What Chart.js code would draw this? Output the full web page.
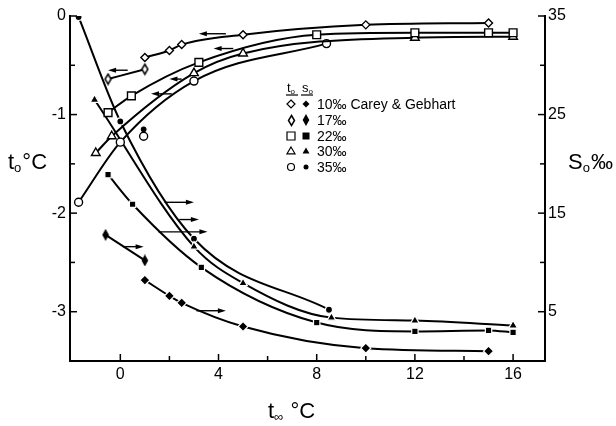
<!DOCTYPE html>
<html>
<head>
<meta charset="utf-8">
<script src="https://cdn.jsdelivr.net/npm/chart.js@4"></script>
<style>
  html, body { margin: 0; padding: 0; background: #fff; }
</style>
</head>
<body>
<canvas id="chart" width="616" height="426"></canvas>
<script>
// axis ticks
const xTicks = [0, 4, 8, 12, 16];
const xMinor = [2, 6, 10, 14];
const leftTicks = [0, -1, -2, -3];
const leftMinor = [-0.5, -1.5, -2.5];
const rightTicks = [5, 15, 25, 35];
const rightMinor = [10, 20, 30];

const legendLabels = ['10‰ Carey & Gebhart', '17‰', '22‰', '30‰', '35‰'];

// open marks = t0 (left axis), closed marks = S0 (right axis)
const tInf10 = [1, 2, 2.5, 5, 10, 15];
const t0_10 = [-0.42, -0.35, -0.29, -0.19, -0.09, -0.07];
const s0_10 = [8.2, 6.6, 5.9, 3.5, 1.3, 1.0];

const tInf17 = [-0.5, 1];
const t0_17 = [-0.64, -0.54];
const tInf17s = [-0.6, 1];
const s0_17 = [12.8, 10.2];

const tInf22 = [-0.5, 0.45, 3.2, 8, 12, 15, 16];
const t0_22 = [-0.98, -0.81, -0.47, -0.19, -0.17, -0.17, -0.17];
const tInf22s = [-0.5, 0.5, 3.3, 8, 12, 15, 16];
const s0_22 = [18.9, 15.9, 9.5, 3.9, 3.0, 3.1, 2.9];

const tInf30 = [-1, -0.35, 3, 5, 12, 16];
const t0_30 = [-1.39, -1.22, -0.58, -0.38, -0.22, -0.21];
const tInf30s = [-1.05, 3, 5, 8.6, 12, 16];
const s0_30 = [26.5, 11.6, 7.9, 4.4, 4.1, 3.6];

const tInf35 = [-1.7, 0, 3, 8.4];
const t0_35 = [-1.89, -1.28, -0.66, -0.28];
const tInf35s = [-1.7, 0, 3, 8.5];
const s0_35 = [34.9, 24.3, 12.4, 5.2];

// lone 35 point at t∞ = 1
const tInfLone = [0.95];
const t0Lone = [-1.22];
const s0Lone = [23.5];

// arrows: head on the left (t0 curves), head on the right (S0 curves)
const arrowsLeft = [
    { from: 0.3, to: -0.5, y: -0.55 },
    { from: 4.3, to: 3.2, y: -0.18 },
    { from: 4.6, to: 3.8, y: -0.33 },
    { from: 2.5, to: 2.0, y: -0.64 },
    { from: 2.1, to: 1.25, y: -0.79 }
];
const arrowsRight = [
    { from: 1.8, to: 3.0, y: 16.1 },
    { from: 2.4, to: 3.2, y: 14.35 },
    { from: 1.55, to: 3.55, y: 13.1 },
    { from: 0.1, to: 0.95, y: 11.6 },
    { from: 3.1, to: 4.3, y: 5.1 }
];

function tallDiamond(w, h, filled) {
    const c = document.createElement('canvas');
    c.width = w + 3;
    c.height = h + 3;
    const g = c.getContext('2d');
    g.beginPath();
    g.moveTo(c.width / 2, 1.5);
    g.lineTo(c.width - 1.5, c.height / 2);
    g.lineTo(c.width / 2, c.height - 1.5);
    g.lineTo(1.5, c.height / 2);
    g.closePath();
    g.fillStyle = filled ? '#000' : '#fff';
    g.fill();
    g.lineWidth = 1.5;
    g.strokeStyle = '#000';
    g.stroke();
    return c;
}
const tallOpen = tallDiamond(6, 10, false);
const tallFilled = tallDiamond(5, 9, true);

function pts(xs, ys) {
    return xs.map((v, i) => ({ x: v, y: ys[i] }));
}

function series(xs, ys, axis, style, radius, filled, line) {
    return {
        data: pts(xs, ys),
        yAxisID: axis,
        showLine: line !== false,
        borderColor: '#000',
        borderWidth: 2,
        cubicInterpolationMode: 'monotone',
        pointStyle: style,
        pointRadius: radius,
        pointBackgroundColor: filled ? '#000' : '#fff',
        pointBorderColor: filled ? '#fff' : '#000',
        pointBorderWidth: filled ? 1.2 : 1.4
    };
}

const datasets = [
    series(tInf10, t0_10, 'y', 'rectRot', 4, false),
    series(tInf17, t0_17, 'y', tallOpen, 5, false),
    series(tInf22, t0_22, 'y', 'rect', 5.5, false),
    series(tInf30, t0_30, 'y', 'triangle', 5, false),
    series(tInf35, t0_35, 'y', 'circle', 4, false),
    series(tInfLone, t0Lone, 'y', 'circle', 4, false, false),
    series(tInf10, s0_10, 'yR', 'rectRot', 5, true),
    series(tInf17s, s0_17, 'yR', tallFilled, 5, true),
    series(tInf22s, s0_22, 'yR', 'rect', 4.5, true),
    series(tInf30s, s0_30, 'yR', 'triangle', 5, true),
    series(tInf35s, s0_35, 'yR', 'circle', 3.5, true),
    series(tInfLone, s0Lone, 'yR', 'circle', 3.5, true, false)
];

const tickFont = { family: 'Liberation Sans', size: 16 };

function shape(ctx, kind, x, y, r, filled) {
    ctx.beginPath();
    if (kind === 'rectRot') {
        ctx.moveTo(x, y - r); ctx.lineTo(x + r, y); ctx.lineTo(x, y + r); ctx.lineTo(x - r, y);
        ctx.closePath();
    } else if (kind === 'rect') {
        ctx.rect(x - r, y - r, 2 * r, 2 * r);
    } else if (kind === 'triangle') {
        ctx.moveTo(x, y - r); ctx.lineTo(x + r, y + r * 0.7); ctx.lineTo(x - r, y + r * 0.7);
        ctx.closePath();
    } else {
        ctx.arc(x, y, r, 0, Math.PI * 2);
    }
    ctx.fillStyle = filled ? '#000' : '#fff';
    ctx.fill();
    if (!filled) ctx.stroke();
}

function subLabel(ctx, x, y, base, sub, rest, size) {
    ctx.font = size + 'px "Liberation Sans"';
    ctx.fillText(base, x, y);
    x += ctx.measureText(base).width;
    ctx.font = Math.round(size * 0.6) + 'px "Liberation Sans"';
    ctx.fillText(sub, x, y + size * 0.12);
    x += ctx.measureText(sub).width + 1;
    ctx.font = size + 'px "Liberation Sans"';
    ctx.fillText(rest, x, y);
}

function arrow(ctx, x1, x2, py) {
    const dir = Math.sign(x2 - x1);
    ctx.beginPath();
    ctx.moveTo(x1, py);
    ctx.lineTo(x2 - dir * 5, py);
    ctx.stroke();
    ctx.beginPath();
    ctx.moveTo(x2, py);
    ctx.lineTo(x2 - dir * 8, py - 2.5);
    ctx.lineTo(x2 - dir * 8, py + 2.5);
    ctx.closePath();
    ctx.fill();
}

const extras = {
    id: 'extras',
    afterDraw(chart) {
        const { ctx, chartArea: a, scales } = chart;
        const sx = scales.x, sy = scales.y, sr = scales.yR;
        ctx.save();
        ctx.strokeStyle = '#000';
        ctx.fillStyle = '#000';
        ctx.lineWidth = 1.5;
        const seg = (x1, y1, x2, y2) => {
            ctx.beginPath(); ctx.moveTo(x1, y1); ctx.lineTo(x2, y2); ctx.stroke();
        };
        xTicks.forEach(v => { const p = sx.getPixelForValue(v); seg(p, a.bottom, p, a.bottom - 7); });
        xMinor.forEach(v => { const p = sx.getPixelForValue(v); seg(p, a.bottom, p, a.bottom - 5); });
        leftTicks.forEach(v => { const p = sy.getPixelForValue(v); seg(a.left, p, a.left + 7, p); });
        leftMinor.forEach(v => { const p = sy.getPixelForValue(v); seg(a.left, p, a.left + 5, p); });
        rightTicks.forEach(v => { const p = sr.getPixelForValue(v); seg(a.right, p, a.right - 7, p); });
        rightMinor.forEach(v => { const p = sr.getPixelForValue(v); seg(a.right, p, a.right - 5, p); });

        ctx.lineWidth = 1.4;
        arrowsLeft.forEach(r => arrow(ctx, sx.getPixelForValue(r.from), sx.getPixelForValue(r.to), sy.getPixelForValue(r.y)));
        arrowsRight.forEach(r => arrow(ctx, sx.getPixelForValue(r.from), sx.getPixelForValue(r.to), sr.getPixelForValue(r.y)));

        // axis titles
        ctx.textAlign = 'left';
        ctx.textBaseline = 'alphabetic';
        subLabel(ctx, 8, 169, 't', 'o', '°C', 22);
        subLabel(ctx, 568, 169, 'S', 'o', '‰', 22);
        subLabel(ctx, 268, 418, 't', '∞', ' °C', 22);

        // legend
        const lx0 = 291, lx1 = 306, lt = 317;
        const rows = [104, 120, 136, 151, 167];
        subLabel(ctx, lx0 - 4, 92, 't', 'o', '', 13);
        subLabel(ctx, lx1 - 4, 92, 's', 'o', '', 13);
        ctx.lineWidth = 1.2;
        seg(lx0 - 5, 95, lx0 + 7, 95);
        seg(lx1 - 5, 95, lx1 + 7, 95);
        const kinds = ['rectRot', 'tall', 'rect', 'triangle', 'circle'];
        ctx.textBaseline = 'middle';
        rows.forEach((ry, i) => {
            const k = kinds[i];
            if (k === 'tall') {
                ctx.drawImage(tallOpen, Math.round(lx0 - tallOpen.width / 2), Math.round(ry - tallOpen.height / 2));
                ctx.drawImage(tallFilled, Math.round(lx1 - tallFilled.width / 2), Math.round(ry - tallFilled.height / 2));
            } else {
                shape(ctx, k, lx0, ry, k === 'circle' ? 3.5 : 4, false);
                shape(ctx, k, lx1, ry, k === 'circle' ? 2.5 : 3.5, true);
            }
            ctx.fillStyle = '#000';
            ctx.font = '14px "Liberation Sans"';
            ctx.fillText(legendLabels[i], lt, ry + 1);
        });
        ctx.restore();
    }
};

new Chart(document.getElementById('chart'), {
    type: 'scatter',
    data: { datasets },
    options: {
        responsive: false,
        animation: false,
        devicePixelRatio: 1,
        layout: { padding: { top: 16, left: 0, right: 0, bottom: 0 } },
        plugins: { legend: { display: false }, tooltip: { enabled: false } },
        scales: {
            x: {
                type: 'linear',
                position: 'bottom',
                min: -2.05,
                max: 17.3,
                afterBuildTicks: s => { s.ticks = xTicks.map(v => ({ value: v })); },
                afterFit: s => { s.height = 65; },
                ticks: { font: tickFont, color: '#000', padding: 4, callback: v => String(v) },
                grid: { display: false, drawTicks: false },
                border: { display: true, color: '#000', width: 2 }
            },
            y: {
                type: 'linear',
                position: 'left',
                min: -3.5,
                max: 0,
                afterBuildTicks: s => { s.ticks = leftTicks.map(v => ({ value: v })); },
                afterFit: s => { s.width = 70; },
                ticks: { font: tickFont, color: '#000', padding: 4, callback: v => String(v) },
                grid: { display: false, drawTicks: false },
                border: { display: true, color: '#000', width: 2 }
            },
            yR: {
                type: 'linear',
                position: 'right',
                min: 0,
                max: 35,
                afterBuildTicks: s => { s.ticks = rightTicks.map(v => ({ value: v })); },
                afterFit: s => { s.width = 71; },
                ticks: { font: tickFont, color: '#000', padding: 3, callback: v => String(v) },
                grid: { display: false, drawTicks: false },
                border: { display: true, color: '#000', width: 2 }
            }
        }
    },
    plugins: [extras]
});
</script>
</body>
</html>
